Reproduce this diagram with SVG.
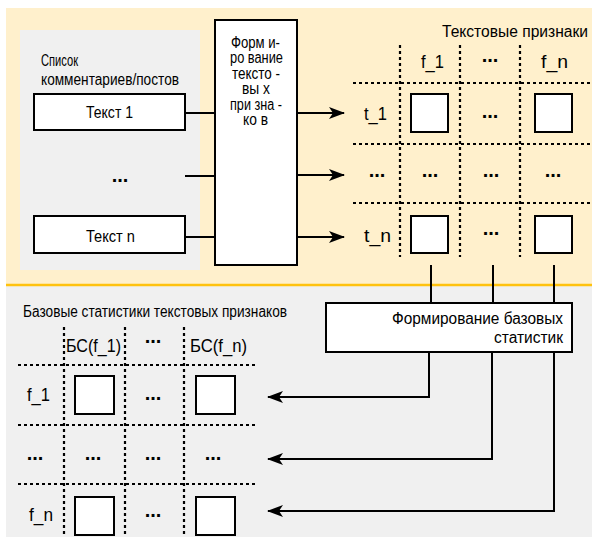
<svg xmlns="http://www.w3.org/2000/svg" width="592" height="537" viewBox="0 0 592 537">
<defs>
<style>
text{font-family:"Liberation Sans",Arial,sans-serif;font-size:16px;fill:#000}
.box{fill:#fff;stroke:#000;stroke-width:2}
.dot{stroke:#000;stroke-width:2.2;stroke-dasharray:3 3;fill:none}
.ln{stroke:#000;stroke-width:2;fill:none}
.c{text-anchor:middle}
.lb{font-size:18px;text-anchor:middle}
.dots{font-size:20px;font-weight:bold;text-anchor:middle}
</style>
<marker id="arr" viewBox="0 0 16 12" refX="15" refY="6" markerWidth="16" markerHeight="12" markerUnits="userSpaceOnUse" orient="auto">
<path d="M0,0 L16,6 L0,12 L4,6 Z" fill="#000"/>
</marker>
</defs>
<rect x="0" y="0" width="592" height="537" fill="#fff"/>
<rect x="6" y="8" width="586" height="276" fill="#fff0cc"/>
<rect x="6" y="286" width="586" height="251" fill="#f0f0f0"/>
<line x1="6" y1="285" x2="592" y2="285" stroke="#ffc20e" stroke-width="2.5"/>

<g id="list">
<rect x="20" y="30" width="180" height="240" fill="#f0f0f0"/>
<text x="41" y="66" textLength="37" lengthAdjust="spacingAndGlyphs">Список</text>
<text x="41" y="85" textLength="138" lengthAdjust="spacingAndGlyphs">комментариев/постов</text>
</g>
<g id="text1"><rect class="box" x="34" y="94" width="151" height="36"/><text x="86" y="118" textLength="47" lengthAdjust="spacingAndGlyphs">Текст 1</text></g>
<text class="dots" x="120" y="182">...</text>
<g id="textn"><rect class="box" x="34" y="216" width="151" height="37"/><text x="86" y="242" textLength="49" lengthAdjust="spacingAndGlyphs">Текст n</text></g>

<g id="form1">
<rect class="box" x="215" y="20" width="82" height="245"/>
<text x="231" y="47.5" textLength="49" lengthAdjust="spacingAndGlyphs">Форм и-</text>
<text x="230" y="63" textLength="53" lengthAdjust="spacingAndGlyphs">ро вание</text>
<text x="232" y="78.5" textLength="48" lengthAdjust="spacingAndGlyphs">тексто -</text>
<text x="242" y="94" textLength="28" lengthAdjust="spacingAndGlyphs">вы х</text>
<text x="230" y="109.5" textLength="52" lengthAdjust="spacingAndGlyphs">при зна -</text>
<text x="243" y="125" textLength="25" lengthAdjust="spacingAndGlyphs">ко в</text>
</g>

<g id="features">
<text x="442" y="37" textLength="146" lengthAdjust="spacingAndGlyphs">Текстовые признаки</text>
<path class="dot" d="M400,45V257M460,45V257M520,45V257M353,83H592M353,144H592M353,203H592"/>
<text x="421" y="68" textLength="23" lengthAdjust="spacingAndGlyphs" style="font-size:18px">f_1</text>
<text class="dots" x="490" y="62">...</text>
<text x="541" y="68" textLength="27" lengthAdjust="spacingAndGlyphs" style="font-size:18px">f_n</text>
<text x="364" y="120" textLength="23" lengthAdjust="spacingAndGlyphs" style="font-size:18px">t_1</text>
<rect class="box" x="411" y="94" width="37" height="38"/>
<text class="dots" x="490" y="118">...</text>
<rect class="box" x="535" y="94" width="37" height="38"/>
<text class="dots" x="377" y="177">...</text>
<text class="dots" x="430" y="177">...</text>
<text class="dots" x="491" y="177">...</text>
<text class="dots" x="553" y="177">...</text>
<text x="364" y="242" textLength="27" lengthAdjust="spacingAndGlyphs" style="font-size:18px">t_n</text>
<rect class="box" x="411" y="216" width="37" height="37"/>
<text class="dots" x="491" y="235">...</text>
<rect class="box" x="535" y="216" width="37" height="37"/>
</g>

<g id="form2">
<rect class="box" x="326" y="303" width="246" height="49"/>
<text x="392" y="324" textLength="171" lengthAdjust="spacingAndGlyphs">Формирование базовых</text>
<text x="494" y="343" textLength="69" lengthAdjust="spacingAndGlyphs">статистик</text>
</g>

<g id="stats">
<text x="23" y="317" textLength="264" lengthAdjust="spacingAndGlyphs">Базовые статистики текстовых признаков</text>
<path class="dot" d="M64,327V537M125,327V537M184,327V537M18,365H256M18,425H256M18,484H256"/>
<text x="66" y="352" textLength="55" lengthAdjust="spacingAndGlyphs" style="font-size:18px">БС(f_1)</text>
<text class="dots" x="153" y="343">...</text>
<text x="190" y="352" textLength="57" lengthAdjust="spacingAndGlyphs" style="font-size:18px">БС(f_n)</text>
<text x="27" y="401" textLength="23" lengthAdjust="spacingAndGlyphs" style="font-size:18px">f_1</text>
<rect class="box" x="75" y="376" width="39" height="38"/>
<text class="dots" x="153" y="400">...</text>
<rect class="box" x="196" y="376" width="39" height="38"/>
<text class="dots" x="35" y="460">...</text>
<text class="dots" x="93" y="460">...</text>
<text class="dots" x="153" y="460">...</text>
<text class="dots" x="213" y="460">...</text>
<text x="29" y="521" textLength="24" lengthAdjust="spacingAndGlyphs" style="font-size:18px">f_n</text>
<rect class="box" x="75" y="497" width="39" height="38"/>
<text class="dots" x="153" y="517">...</text>
<rect class="box" x="196" y="497" width="39" height="38"/>
</g>

<g id="connectors">
<path class="ln" d="M185,113H215M185,176H215M185,237H215"/>
<path class="ln" marker-end="url(#arr)" d="M297,113H344"/>
<path class="ln" marker-end="url(#arr)" d="M297,175H344"/>
<path class="ln" marker-end="url(#arr)" d="M297,237H344"/>
<path class="ln" d="M431,265V303M493,265V303M554,265V303"/>
<path class="ln" marker-end="url(#arr)" d="M429,352V397H268"/>
<path class="ln" marker-end="url(#arr)" d="M492,352V459H268"/>
<path class="ln" marker-end="url(#arr)" d="M554,352V511H268"/>
</g>
</svg>
